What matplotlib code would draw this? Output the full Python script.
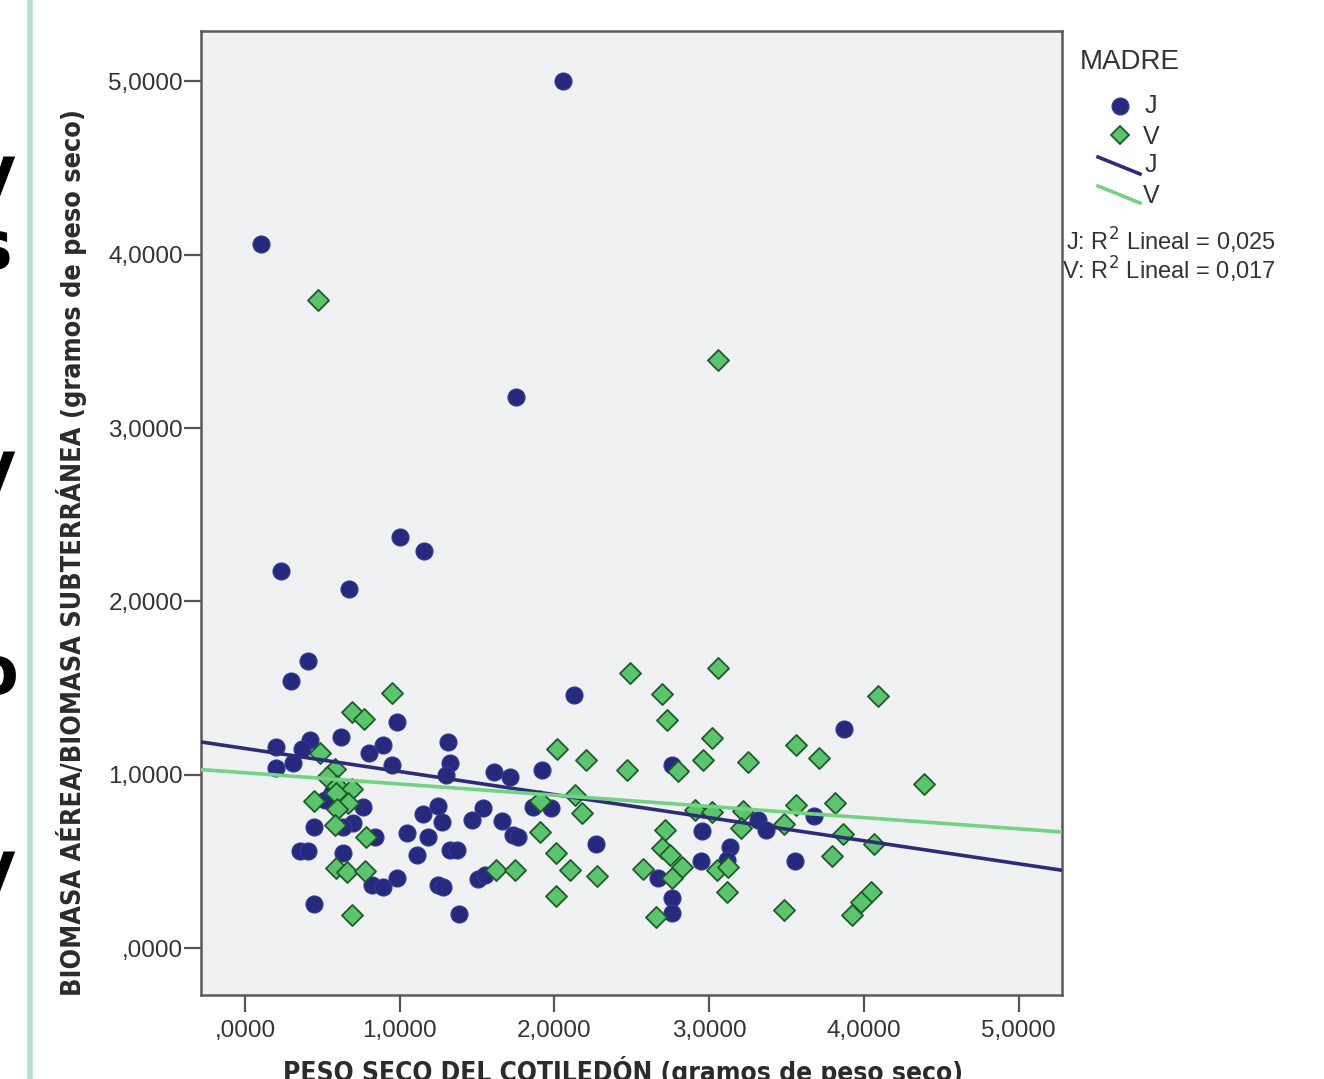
import matplotlib
matplotlib.use('Agg')
import matplotlib.pyplot as plt
from matplotlib.lines import Line2D

# --- data ---
j_x = [2.054, 0.103, 1.751, 1.001, 1.156, 0.233, 0.672, 0.407, 0.297, 2.125,
       3.870, 0.982, 0.620, 0.420, 0.200, 0.368, 0.801, 0.891, 0.950, 0.310,
       0.200, 1.311, 1.324, 1.298, 1.609, 1.712, 1.919, 2.758, 0.562, 0.517,
       0.762, 0.446, 0.698, 0.633, 0.840, 1.047, 0.355, 0.407, 0.633, 0.820,
       0.891, 0.982, 0.446, 1.247, 1.150, 1.273, 1.537, 1.466, 1.660, 1.731,
       1.764, 1.182, 1.111, 1.324, 1.370, 1.860, 1.977, 1.247, 1.279, 1.505,
       1.550, 1.382, 2.267, 2.952, 2.946, 2.668, 2.758, 2.758, 3.133, 3.114,
       3.676, 3.314, 3.366, 3.553]
j_y = [5.000, 4.060, 3.178, 2.370, 2.290, 2.174, 2.070, 1.655, 1.540, 1.459,
       1.263, 1.303, 1.217, 1.200, 1.159, 1.148, 1.125, 1.171, 1.055, 1.067,
       1.038, 1.188, 1.067, 0.998, 1.015, 0.986, 1.027, 1.055, 0.894, 0.854,
       0.813, 0.698, 0.721, 0.698, 0.640, 0.663, 0.559, 0.559, 0.548, 0.363,
       0.352, 0.404, 0.254, 0.819, 0.773, 0.727, 0.807, 0.738, 0.732, 0.652,
       0.640, 0.640, 0.536, 0.565, 0.565, 0.813, 0.807, 0.363, 0.352, 0.398,
       0.421, 0.196, 0.600, 0.675, 0.502, 0.404, 0.288, 0.202, 0.582, 0.507,
       0.761, 0.738, 0.681, 0.502]

v_x = [0.472, 3.056, 2.487, 3.056, 2.694, 2.726, 4.089, 0.950, 0.691, 0.769,
       3.017, 2.959, 2.016, 2.203, 2.468, 2.797, 3.559, 3.708, 3.249, 4.386,
       0.484, 0.581, 0.530, 0.594, 0.691, 0.588, 0.665, 0.446, 0.594, 0.581,
       0.782, 0.588, 0.659, 0.775, 0.691, 1.906, 1.906, 2.009, 1.621, 1.744,
       2.009, 2.100, 2.132, 2.177, 2.907, 3.017, 2.713, 2.694, 2.745, 2.823,
       2.758, 2.571, 2.274, 3.049, 3.114, 2.655, 3.559, 3.811, 3.217, 3.204,
       3.482, 3.863, 4.063, 3.792, 3.120, 3.482, 4.044, 3.979, 3.921]
v_y = [3.737, 3.391, 1.586, 1.615, 1.465, 1.315, 1.453, 1.471, 1.361, 1.321,
       1.211, 1.084, 1.148, 1.084, 1.027, 1.021, 1.171, 1.096, 1.073, 0.946,
       1.125, 1.032, 0.986, 0.934, 0.917, 0.894, 0.836, 0.848, 0.802, 0.709,
       0.640, 0.461, 0.438, 0.444, 0.190, 0.848, 0.669, 0.548, 0.450, 0.450,
       0.300, 0.450, 0.882, 0.779, 0.796, 0.784, 0.681, 0.577, 0.536, 0.467,
       0.404, 0.456, 0.415, 0.450, 0.323, 0.179, 0.825, 0.836, 0.790, 0.692,
       0.715, 0.657, 0.600, 0.531, 0.467, 0.219, 0.323, 0.265, 0.190]

# linear fits (intercept, slope) as drawn
j_fit = (1.152, -0.133)
v_fit = (1.012, -0.0647)

ticks = [0, 1, 2, 3, 4, 5]
tick_labels = [',0000', '1,0000', '2,0000', '3,0000', '4,0000', '5,0000']

J_COL = '#262a7c'
V_FILL = '#5cc46c'
V_EDGE = '#1f5a2c'
JL_COL = '#2e2c7a'
VL_COL = '#74d283'

fig = plt.figure(figsize=(13.24, 10.79), dpi=100)
fig.patch.set_facecolor('white')
ax = fig.add_axes([0.1518, 0.0778, 0.6503, 0.8935])
ax.set_facecolor('#f0f1f3')

xmin, xmax = -0.284, 5.28
ax.set_xlim(xmin, xmax)
ax.set_ylim(-0.27, 5.29)

ax.scatter(j_x, j_y, s=150, c=J_COL, edgecolors='#33379a', linewidths=0.8, zorder=2)
ax.scatter(v_x, v_y, s=115, marker='D', c=V_FILL, edgecolors=V_EDGE, linewidths=1.3, zorder=3)

for fit, col in ((j_fit, JL_COL), (v_fit, VL_COL)):
    xs = [xmin, xmax]
    ys = [fit[0] + fit[1] * x for x in xs]
    ax.plot(xs, ys, color=col, lw=2.6, zorder=4, solid_capstyle='butt')

ax.set_xticks(ticks)
ax.set_xticklabels(tick_labels)
ax.set_yticks(ticks)
ax.set_yticklabels(tick_labels)
ax.tick_params(length=12, width=1.6, color='#555555', labelsize=17.5,
               labelcolor='#333333', pad=1)
ax.tick_params(axis='x', pad=6)
for lab in ax.get_xticklabels() + ax.get_yticklabels():
    lab.set_family(['Liberation Sans', 'DejaVu Sans'])
for sp in ax.spines.values():
    sp.set_color('#5a5a5a')
    sp.set_linewidth(1.8)

ylab = fig.text(0.054, 0.488, 'BIOMASA AÉREA/BIOMASA SUBTERRÁNEA (gramos de peso seco)',
                rotation=90, ha='center', va='center', fontsize=19, weight='bold',
                color='#2b2b2b', family='DejaVu Sans', fontstretch='condensed')
xlab = fig.text(0.4705, -2 / 1079, 'PESO SECO DEL COTILEDÓN (gramos de peso seco)',
                ha='center', va='baseline', fontsize=20, weight='bold',
                color='#2b2b2b', family='DejaVu Sans', fontstretch='condensed')

# shrink the condensed-looking labels to the length seen in the reference
renderer = fig.canvas.get_renderer()
for t, target, horiz in ((ylab, 887, False), (xlab, 678, True)):
    bb = t.get_window_extent(renderer)
    size = bb.width if horiz else bb.height
    t.set_fontsize(t.get_fontsize() * target / size)

# legend drawn by hand (SPSS style)
lf = ['Liberation Sans', 'DejaVu Sans']
fig.text(1080 / 1324, 1 - 62 / 1079, 'MADRE', fontsize=20, color='#333333',
         va='center', family=lf)
fig.add_artist(Line2D([1120 / 1324], [1 - 106 / 1079], marker='o', ms=12,
                      color=J_COL, mec='#33379a', transform=fig.transFigure))
fig.add_artist(Line2D([1120 / 1324], [1 - 135 / 1079], marker='D', ms=9,
                      color=V_FILL, mec=V_EDGE, mew=1.3, transform=fig.transFigure))
fig.add_artist(Line2D([1098 / 1324, 1140 / 1324], [1 - 157 / 1079, 1 - 174 / 1079],
                      color=JL_COL, lw=2.6, transform=fig.transFigure))
fig.add_artist(Line2D([1098 / 1324, 1140 / 1324], [1 - 186 / 1079, 1 - 203 / 1079],
                      color=VL_COL, lw=2.6, transform=fig.transFigure))
for txt, yy, xx in (('J', 106, 1145), ('V', 137, 1143), ('J', 165, 1145), ('V', 196, 1143)):
    fig.text(xx / 1324, 1 - yy / 1079, txt, fontsize=18, color='#333333',
             va='center', family=lf)
fig.text(1066 / 1324, 1 - 241 / 1079, 'J: R$^2$ Lineal = 0,025', fontsize=17,
         color='#333333', va='center', family=lf)
fig.text(1062 / 1324, 1 - 270 / 1079, 'V: R$^2$ Lineal = 0,017', fontsize=17,
         color='#333333', va='center', family=lf)

# slide fragments on the left edge
fig.add_artist(Line2D([30 / 1324, 30 / 1324], [0, 1], color='#b7dcca', lw=4,
                      transform=fig.transFigure))
for ch, yy in (('y', 175), ('s', 250), ('y', 470), ('o', 675), ('y', 870)):
    fig.text(-28 / 1324, 1 - yy / 1079, ch, fontsize=48, weight='bold',
             color='black', va='center', ha='left', family=['DejaVu Sans'])

fig.savefig('out.png', dpi=100)
